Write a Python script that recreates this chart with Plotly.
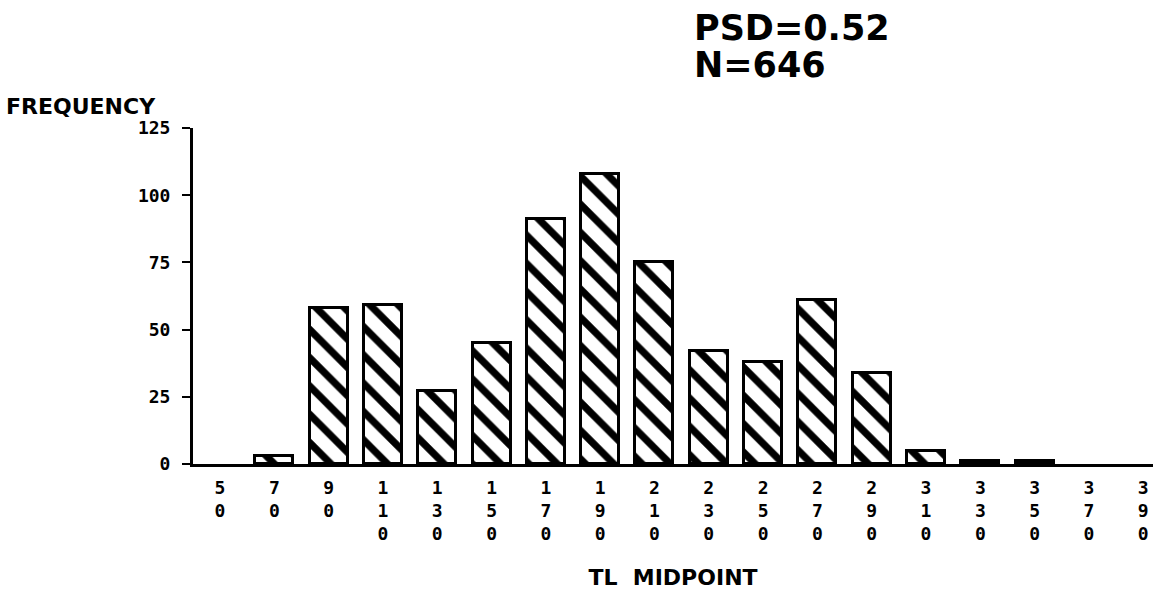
import plotly.graph_objects as go

midpoints = [50, 70, 90, 110, 130, 150, 170, 190, 210, 230, 250, 270, 290, 310, 330, 350, 370, 390]
frequency = [0, 3, 58, 59, 27, 45, 91, 108, 75, 42, 38, 61, 34, 5, 1, 1, 0, 0]
y_ticks = [0, 25, 50, 75, 100, 125]
x_ticktext = ["<br>".join(list(str(m))) for m in midpoints]
stat_lines = ["PSD=0.52", "N=646"]

outline_widths = [3 if v > 0 else 0 for v in frequency]

fig = go.Figure()
fig.add_trace(go.Bar(
    x=midpoints, y=frequency, width=14,
    marker=dict(color="white",
                line=dict(color="black", width=outline_widths),
                pattern=dict(shape="\\", size=20, solidity=0.36,
                             fgcolor="black", fgopacity=1, bgcolor="white",
                             fillmode="overlay")),
    showlegend=False,
))

tick_font = dict(family="DejaVu Sans Mono", size=18, color="black", weight="bold")

W, H = 1153, 592
l, r, t, b = 193, 0, 128, 128
pw, ph = W - l - r, H - t - b


def px_x(x):
    return (x - l) / pw


def px_y(y):
    return 1 - (y - t) / ph


stat_font = dict(family="DejaVu Sans", size=35, color="black", weight="bold")

fig.update_layout(
    width=W, height=H,
    margin=dict(l=l, r=r, t=t, b=b),
    paper_bgcolor="white", plot_bgcolor="white",
    bargap=0,
    xaxis=dict(range=[40.05, 393.6], tickvals=midpoints, ticktext=x_ticktext,
               showline=True, linecolor="black", linewidth=3,
               showgrid=False, zeroline=False, ticks="",
               tickfont=tick_font, ticklabelstandoff=5,
               title=dict(text="TL  MIDPOINT", standoff=27,
                          font=dict(family="DejaVu Sans", size=22, color="black", weight="bold"))),
    yaxis=dict(range=[0, 125], tickvals=y_ticks, ticktext=[str(v) for v in y_ticks],
               showline=True, linecolor="black", linewidth=3,
               showgrid=False, zeroline=False,
               ticks="outside", ticklen=8, tickwidth=2, tickcolor="black",
               tickfont=tick_font, ticklabelstandoff=8),
    annotations=[
        dict(text="FREQUENCY", x=px_x(4), y=px_y(106), xref="paper", yref="paper",
             showarrow=False, xanchor="left", yanchor="middle",
             font=dict(family="DejaVu Sans", size=22, color="black", weight="bold")),
        dict(text=stat_lines[0], x=px_x(692), y=px_y(28), xref="paper", yref="paper",
             showarrow=False, xanchor="left", yanchor="middle", font=stat_font),
        dict(text=stat_lines[1], x=px_x(692), y=px_y(65), xref="paper", yref="paper",
             showarrow=False, xanchor="left", yanchor="middle", font=stat_font),
    ],
)

fig.write_html("out.html")
